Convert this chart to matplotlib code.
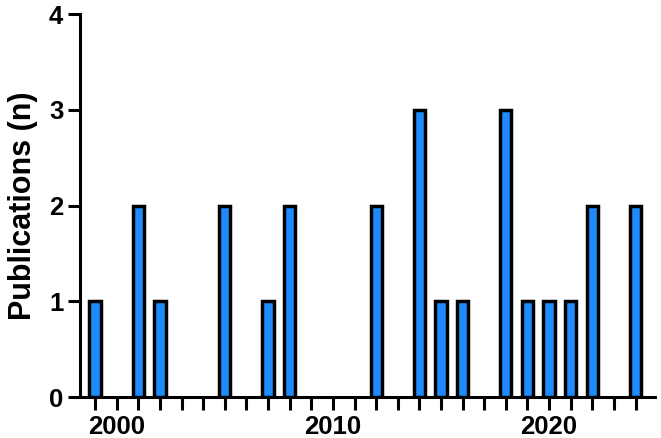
import matplotlib.pyplot as plt

years = [1999, 2001, 2002, 2005, 2007, 2008, 2012, 2014, 2015, 2016,
         2018, 2019, 2020, 2021, 2022, 2024]
counts = [1, 2, 1, 2, 1, 2, 2, 3, 1, 1, 3, 1, 1, 1, 2, 2]
tick_years = list(range(1999, 2025))
label_years = [2000, 2010, 2020]
y_ticks = [0, 1, 2, 3, 4]

plt.rcParams["font.family"] = ["Liberation Sans", "DejaVu Sans"]
plt.rcParams["font.weight"] = "bold"

fig = plt.figure(figsize=(6.61, 4.38), dpi=100)
ax = fig.add_axes([0.121, 0.093, 0.870, 0.875])

ax.bar(years, counts, width=0.52, color="#1e8cff", edgecolor="black", linewidth=2.5, zorder=3)

ax.set_xlim(1998.3, 2024.9)
ax.set_ylim(0, 4)
ax.set_xticks(tick_years)
ax.set_xticklabels([str(y) if y in label_years else "" for y in tick_years])
ax.set_yticks(y_ticks)

for side in ["top", "right"]:
    ax.spines[side].set_visible(False)
for side in ["left", "bottom"]:
    ax.spines[side].set_linewidth(2.2)

ax.tick_params(axis="both", width=2.2, length=9, labelsize=18.5)
ax.tick_params(axis="x", pad=3.5)
ax.tick_params(axis="y", pad=3)
for lab in ax.get_xticklabels() + ax.get_yticklabels():
    lab.set_fontweight("bold")

ax.set_ylabel("Publications (n)", fontsize=22, fontweight="bold", labelpad=8)

fig.savefig("out.png", dpi=100)
